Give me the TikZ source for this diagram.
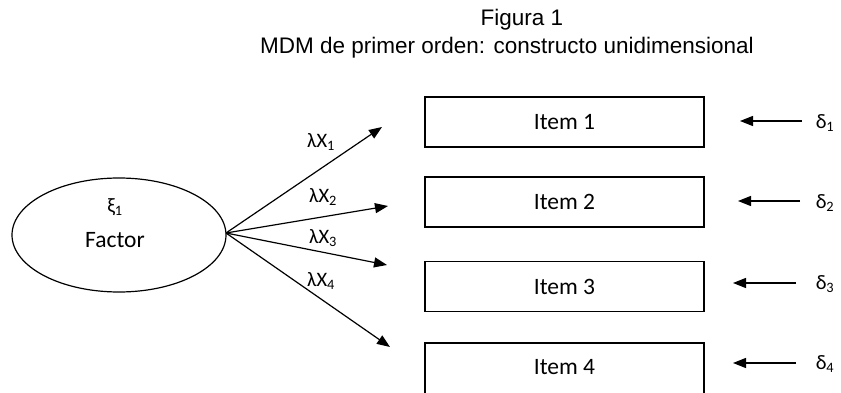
\documentclass[tikz,border=0pt]{standalone}
\usepackage{fontspec}
\setmainfont{Carlito}
\newfontfamily\titlefont{Liberation Sans}
\usetikzlibrary{arrows.meta,shapes.geometric}
\tikzset{
  itembox/.style={draw, line width=1.2pt, minimum width=279pt, minimum height=50pt, inner sep=0pt, font=\fontsize{23.5}{26}\selectfont},
  lbl/.style={font=\fontsize{20.5}{23}\selectfont, inner sep=0pt},
  arr/.style={line width=1.2pt, -{Triangle[length=13pt,width=10pt]}},
  ttl/.style={font=\titlefont\fontsize{22.5}{26}\selectfont},
}
\begin{document}
\begin{tikzpicture}[x=1pt,y=-1pt]
\useasboundingbox (0,0) rectangle (841,393);
\node[ttl] (t1) at (522,20) {Figura 1};
\node[ttl] (t2) at (507,48) {MDM de primer orden: constructo unidimensional};
\node[draw, ellipse, line width=1.2pt, minimum width=214pt, minimum height=114pt, inner sep=0pt] (f) at (119,235) {};
\node[lbl] (xi) at (115,207) {ξ\textsubscript{1}};
\node[font=\fontsize{23.5}{26}\selectfont] (fac) at (115,240) {Factor};
\node[itembox] (i1) at (564.5,122) {Item 1};
\node[itembox] (i2) at (564.5,202) {Item 2};
\node[itembox] (i3) at (564.5,286.5) {Item 3};
\node[itembox, minimum height=58pt] (i4) at (564.5,372) {};
\node[font=\fontsize{23.5}{26}\selectfont] (i4t) at (564.5,367) {Item 4};
\coordinate (e1) at (382,127);
\coordinate (e2) at (388,206);
\coordinate (e3) at (387,265);
\coordinate (e4) at (390,347);
\coordinate (o) at (226,233);
\draw[arr] (o) -- (e1);
\draw[arr] (o) -- (e2);
\draw[arr] (o) -- (e3);
\draw[arr] (o) -- (e4);
\node[lbl] (l1) at (321,142) {λX\textsubscript{1}};
\node[lbl] (l2) at (323,197) {λX\textsubscript{2}};
\node[lbl] (l3) at (323,238) {λX\textsubscript{3}};
\node[lbl] (l4) at (321,281) {λX\textsubscript{4}};
\node[lbl] (d1) at (825,123) {δ\textsubscript{1}};
\node[lbl] (d2) at (825,203) {δ\textsubscript{2}};
\node[lbl] (d3) at (825,284) {δ\textsubscript{3}};
\node[lbl] (d4) at (825,364) {δ\textsubscript{4}};
\coordinate (s1) at (802,121); \coordinate (u1) at (740,121);
\coordinate (s2) at (800,201); \coordinate (u2) at (738,201);
\coordinate (s3) at (796,283); \coordinate (u3) at (733,283);
\coordinate (s4) at (796,363); \coordinate (u4) at (733,363);
\draw[arr] (s1) -- (u1);
\draw[arr] (s2) -- (u2);
\draw[arr] (s3) -- (u3);
\draw[arr] (s4) -- (u4);
\end{tikzpicture}
\end{document}
